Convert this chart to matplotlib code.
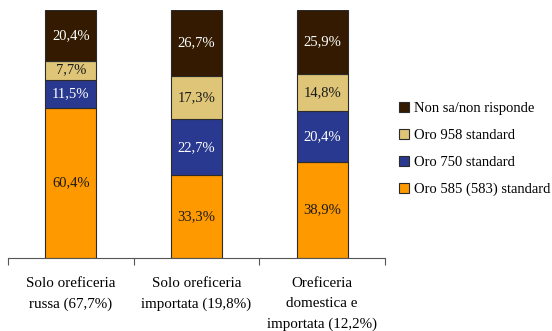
import matplotlib
matplotlib.use('Agg')

import matplotlib.pyplot as plt
import numpy as np

categories = ["Solo oreficeria\nrussa (67,7%)",
              "Solo oreficeria\nimportata (19,8%)",
              "Oreficeria\ndomestica e\nimportata (12,2%)"]
series_names = ["Oro 585 (583) standard", "Oro 750 standard",
                "Oro 958 standard", "Non sa/non risponde"]
oro_585 = [60.4, 33.3, 38.9]
oro_750 = [11.5, 22.7, 20.4]
oro_958 = [7.7, 17.3, 14.8]
non_sa = [20.4, 26.7, 25.9]

colors = ["#FF9900", "#2A3990", "#DFC577", "#331A00"]
text_colors = ["#1a1a1a", "white", "#1a1a1a", "white"]

plt.rcParams['font.family'] = ['Liberation Serif', 'DejaVu Serif']

fig = plt.figure(figsize=(5.52, 3.31), dpi=100)
ax = fig.add_axes([8 / 552, 73 / 331, 377 / 552, 248 / 331])

x = np.arange(len(categories))
bottom = np.zeros(len(categories))
handles = []
for vals, name, col, tcol in zip([oro_585, oro_750, oro_958, non_sa],
                                 series_names, colors, text_colors):
    bars = ax.bar(x, vals, bottom=bottom, width=0.405, color=col,
                  edgecolor="#2b2b2b", linewidth=0.8, label=name)
    handles.append(bars)
    for xi, v, b in zip(x, vals, bottom):
        ax.text(xi, b + v / 2, f"{v:.1f}%".replace(".", ","),
                ha="center", va="center", color=tcol, fontsize=10.5)
    bottom += np.array(vals)

ax.set_xlim(-0.5, len(categories) - 0.5)
ax.set_ylim(0, 100)
for s in ["top", "right", "left"]:
    ax.spines[s].set_visible(False)
ax.spines["bottom"].set_color("#555555")
ax.set_yticks([])
ax.set_xticks(np.arange(len(categories) + 1) - 0.5)
ax.set_xticklabels([])
ax.tick_params(axis='x', direction='out', length=5, color="#555555")

for xi, lab in zip(x, categories):
    ax.text(xi, -7.8, lab, ha="center", va="top", fontsize=10.8,
            linespacing=1.68, clip_on=False)

leg = fig.legend(handles[::-1], series_names[::-1], loc="upper left",
                 bbox_to_anchor=(386 / 552, 1 - 89 / 331), frameon=False,
                 fontsize=10.5, handlelength=0.65, handleheight=0.65,
                 handletextpad=0.35, labelspacing=0.95)

fig.savefig("out.png", dpi=100)
